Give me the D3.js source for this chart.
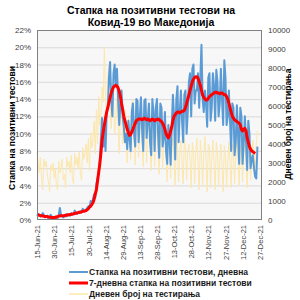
<!DOCTYPE html>
<html><head><meta charset="utf-8">
<script src="https://cdn.jsdelivr.net/npm/d3@7/dist/d3.min.js"></script>
<style>body{margin:0;background:#fff}svg{display:block}</style>
</head><body>
<svg id="c" width="300" height="300"></svg>
<script>
const startDate = "2021-06-15";
const titleLines = ["Стапка на позитивни тестови на", "Ковид-19 во Македонија"];
const leftTitle = "Стапка на позитивни тестови";
const rightTitle = "Дневен број на тестирања";
const seriesNames = ["Стапка на позитивни тестови, дневна", "7-дневна стапка на позитивни тестови", "Дневен број на тестирања"];
const tickLabels = ["15-Jun-21","30-Jun-21","15-Jul-21","30-Jul-21","14-Aug-21","29-Aug-21","13-Sep-21","28-Sep-21","13-Oct-21","28-Oct-21","12-Nov-21","27-Nov-21","12-Dec-21","27-Dec-21"];
const leftTicks = [0,2,4,6,8,10,12,14,16,18,20,22];
const rightTicks = [0,1000,2000,3000,4000,5000,6000,7000,8000,9000,10000];

const dailyRate = [
0.5,0.7,0.6,0.4,0.5,0.8,0.6,
0.3,0.4,0.5,0.2,0.3,0.6,0.4,
0.2,0.3,0.4,0.3,0.2,0.5,1.4,
0.6,0.4,0.3,0.5,0.4,0.7,0.5,
0.6,0.5,0.8,0.6,0.7,1.1,0.8,
0.7,0.9,0.8,1.0,0.9,1.3,1.1,
1.0,1.2,1.4,1.6,1.5,2.2,2.0,
2.4,3.0,2.6,4.2,4.8,5.5,6.8,
9.5,11.8,8.5,10.5,8.0,12.5,13.0,
16.5,18.3,14.0,12.0,17.0,18.0,15.5,
17.5,14.0,11.0,13.5,15.0,12.0,10.8,
9.0,10.0,8.2,11.5,9.5,8.0,12.5,
13.5,10.0,8.5,14.0,13.8,9.0,12.0,
14.2,10.5,8.0,13.8,14.0,9.5,11.5,
13.5,9.0,7.5,14.0,12.5,8.0,13.0,
14.0,10.0,7.2,13.5,13.0,8.5,9.5,
12.5,8.0,6.5,11.0,9.5,6.4,11.0,
14.5,12.0,7.0,14.0,15.5,9.0,12.5,
15.0,11.5,9.0,14.5,15.0,10.0,12.5,
16.0,17.0,12.0,17.5,18.0,13.5,15.0,
15.0,17.0,13.0,16.5,20.3,14.0,12.5,
15.0,13.5,10.8,16.5,17.0,11.5,13.0,
17.0,15.5,11.5,17.4,16.0,12.0,13.5,
17.5,14.0,11.0,18.5,16.5,11.0,12.0,
15.0,11.5,8.0,13.5,13.0,7.5,9.0,
13.3,10.0,6.5,13.0,12.0,6.5,9.0,
12.0,9.0,5.8,11.5,10.0,6.0,7.0,
7.5,6.0,5.0,4.8,8.5
];

const weeklyRate = [
0.6,0.6,0.55,0.5,0.5,0.45,0.45,
0.4,0.4,0.4,0.35,0.35,0.3,0.3,
0.3,0.3,0.3,0.35,0.4,0.45,0.45,
0.5,0.5,0.5,0.5,0.55,0.55,0.6,
0.6,0.65,0.65,0.7,0.7,0.75,0.8,
0.8,0.85,0.9,0.9,0.95,1.0,1.0,
1.05,1.1,1.2,1.3,1.5,1.6,1.8,
2.0,2.4,3.0,3.5,4.5,5.5,6.5,
7.8,9.3,10.2,11.0,11.8,12.5,13.0,
13.6,14.2,14.7,15.1,15.4,15.5,15.6,
15.5,15.3,14.9,14.3,13.5,12.8,12.0,
11.5,11.0,10.5,10.1,9.8,9.9,10.2,
10.5,10.9,11.2,11.5,11.6,11.7,11.7,
11.7,11.6,11.7,11.8,11.7,11.6,11.7,
11.6,11.5,11.6,11.7,11.6,11.5,11.6,
11.6,11.7,11.6,11.5,11.4,11.2,10.9,
10.5,10.0,9.7,9.5,9.8,10.3,10.8,
11.5,12.0,12.2,12.4,12.5,12.5,12.4,
12.5,12.6,12.6,12.7,13.0,13.5,14.0,
14.5,15.0,15.5,16.0,16.3,16.5,16.6,
16.6,16.4,16.0,15.6,15.0,14.5,14.2,
14.0,13.9,13.9,14.1,14.3,14.4,14.5,
14.6,14.7,14.8,14.8,14.7,14.7,14.6,
14.7,14.7,14.6,14.5,14.5,14.3,14.0,
13.5,13.0,12.5,12.0,11.8,11.6,11.5,
11.4,11.3,11.2,11.0,10.5,10.3,10.5,
10.6,10.3,9.5,9.0,8.5,8.2,8.0,
7.9,7.8,7.7
];

const dailyTests = [
3600,3000,2500,3300,2200,1600,3200,
2800,3100,2400,2000,1500,2900,2600,
3000,2200,2700,1800,1600,3100,2500,
2700,3200,2100,2400,1700,3300,2800,
3100,2500,3400,2200,1900,3500,2900,
3300,2700,3600,2400,2100,3800,3200,
3500,4000,3000,4300,2600,4600,3800,
4200,5200,3500,5800,4000,6500,5000,
5500,7000,6200,9100,6500,5200,7500,
8200,6000,4800,7000,6200,4500,5500,
6500,5000,3500,5800,6000,4000,5200,
5800,4200,3000,5500,4800,3200,6200,
6300,4500,2900,5900,5200,3300,4800,
5200,4000,2800,5500,5000,3000,4600,
5000,3800,2600,5200,4700,2800,4400,
4800,3600,2400,4900,4400,2700,4100,
4500,3300,2000,4600,4200,2200,3900,
4300,3100,1800,4400,3900,2000,3700,
4200,3000,1900,4300,3800,2100,3600,
4000,3200,1700,4100,3700,1900,3500,
4300,3000,1600,4200,3500,1800,3400,
4400,3100,1500,4000,3800,1700,3300,
4200,2900,1600,4100,3600,1800,3200,
4000,2800,1500,3900,3400,1700,3100,
4100,3000,1700,4000,3500,1900,3300,
4300,3200,1800,3900,3600,2000,3500,
4000,3100,1700,3800,3700,2100,3400,
4200,3500,2500,4000,4700
];

const parseISO = d3.timeParse("%Y-%m-%d");
const parseTick = d3.timeParse("%d-%b-%y");
const t0 = parseISO(startDate);
const dateAt = i => d3.timeDay.offset(t0, i);

const svg = d3.select("#c");
const L = 37, R = 262, T = 30, B = 220;
const x = d3.scaleTime().domain([t0, parseISO("2021-12-29")]).range([L, R]);
const yL = d3.scaleLinear().domain([0, 22]).range([B, T]);
const yR = d3.scaleLinear().domain([0, 10000]).range([B, T]);

svg.append("rect").attr("width",300).attr("height",300).attr("fill","#fff");
svg.append("rect").attr("x",L).attr("y",T).attr("width",R-L).attr("height",B-T).attr("fill","#f7f7f7");

svg.append("g").selectAll("line").data(leftTicks.slice(1)).join("line")
  .attr("x1",L).attr("x2",R).attr("y1",d=>yL(d)+0.5).attr("y2",d=>yL(d)+0.5)
  .attr("stroke","#d9d9d9").attr("stroke-width",1);

const font = "'Liberation Sans', Arial, sans-serif";

const gl = svg.append("g").attr("transform",`translate(${L},0)`)
  .call(d3.axisLeft(yL).tickValues(leftTicks).tickFormat(d=>d+"%").tickSize(0).tickPadding(6));
gl.select(".domain").remove();
gl.selectAll("text").attr("font-family",font).attr("font-size",8).attr("fill","#404040");

const gr = svg.append("g").attr("transform",`translate(${R},0)`)
  .call(d3.axisRight(yR).tickValues(rightTicks).tickSize(0).tickPadding(6).tickFormat(d3.format("d")));
gr.select(".domain").remove();
gr.selectAll("text").attr("font-family",font).attr("font-size",8).attr("fill","#404040");

const tickDates = tickLabels.map(parseTick);
const gx = svg.append("g").attr("transform",`translate(0,${B})`)
  .call(d3.axisBottom(x).tickValues(tickDates).tickSize(0).tickFormat((d,i)=>tickLabels[i]));
gx.select(".domain").remove();
gx.selectAll("text").attr("font-family",font).attr("font-size",7.5).attr("fill","#404040")
  .attr("text-anchor","end").attr("transform","rotate(-90)")
  .attr("x",-5).attr("y",0).attr("dy","0.35em");

const lineTests = d3.line().x((d,i)=>x(dateAt(i))).y(d=>yR(d));
const lineRate = d3.line().x((d,i)=>x(dateAt(i))).y(d=>yL(d));

svg.append("path").datum(dailyTests).attr("d",lineTests)
  .attr("fill","none").attr("stroke","#fde7ad").attr("stroke-width",1);
svg.append("path").datum(dailyRate).attr("d",lineRate)
  .attr("fill","none").attr("stroke","#5b9bd5").attr("stroke-width",2).attr("stroke-linejoin","round");
svg.append("path").datum(weeklyRate).attr("d",lineRate)
  .attr("fill","none").attr("stroke","#ff0000").attr("stroke-width",3).attr("stroke-linejoin","round");

svg.append("rect").attr("x",L+0.5).attr("y",T+0.5).attr("width",R-L-1).attr("height",B-T-1)
  .attr("fill","none").attr("stroke","#808080").attr("stroke-width",1);

svg.append("g").selectAll("text").data(titleLines).join("text")
  .attr("x",151).attr("y",(d,i)=>14+i*12).attr("text-anchor","middle")
  .attr("font-family",font).attr("font-weight","bold").attr("font-size",10.5).attr("fill","#000")
  .text(d=>d);

svg.append("text").attr("transform","translate(15,128) rotate(-90)").attr("text-anchor","middle")
  .attr("font-family",font).attr("font-weight","bold").attr("font-size",8.5).text(leftTitle);
svg.append("text").attr("transform","translate(291,124) rotate(-90)").attr("text-anchor","middle")
  .attr("font-family",font).attr("font-weight","bold").attr("font-size",8.5).text(rightTitle);

const legColors = ["#5b9bd5","#ff0000","#fde7ad"];
const legWidths = [2,3,1.5];
const lg = svg.append("g").selectAll("g").data(seriesNames).join("g")
  .attr("transform",(d,i)=>`translate(0,${272+i*11})`);
lg.append("line").attr("x1",69).attr("x2",88).attr("y1",0).attr("y2",0)
  .attr("stroke",(d,i)=>legColors[i]).attr("stroke-width",(d,i)=>legWidths[i]);
lg.append("text").attr("x",89).attr("y",0).attr("dy","0.35em")
  .attr("font-family",font).attr("font-weight","bold").attr("font-size",8.5).attr("fill","#1a1a1a")
  .text(d=>d);
</script>
</body></html>
